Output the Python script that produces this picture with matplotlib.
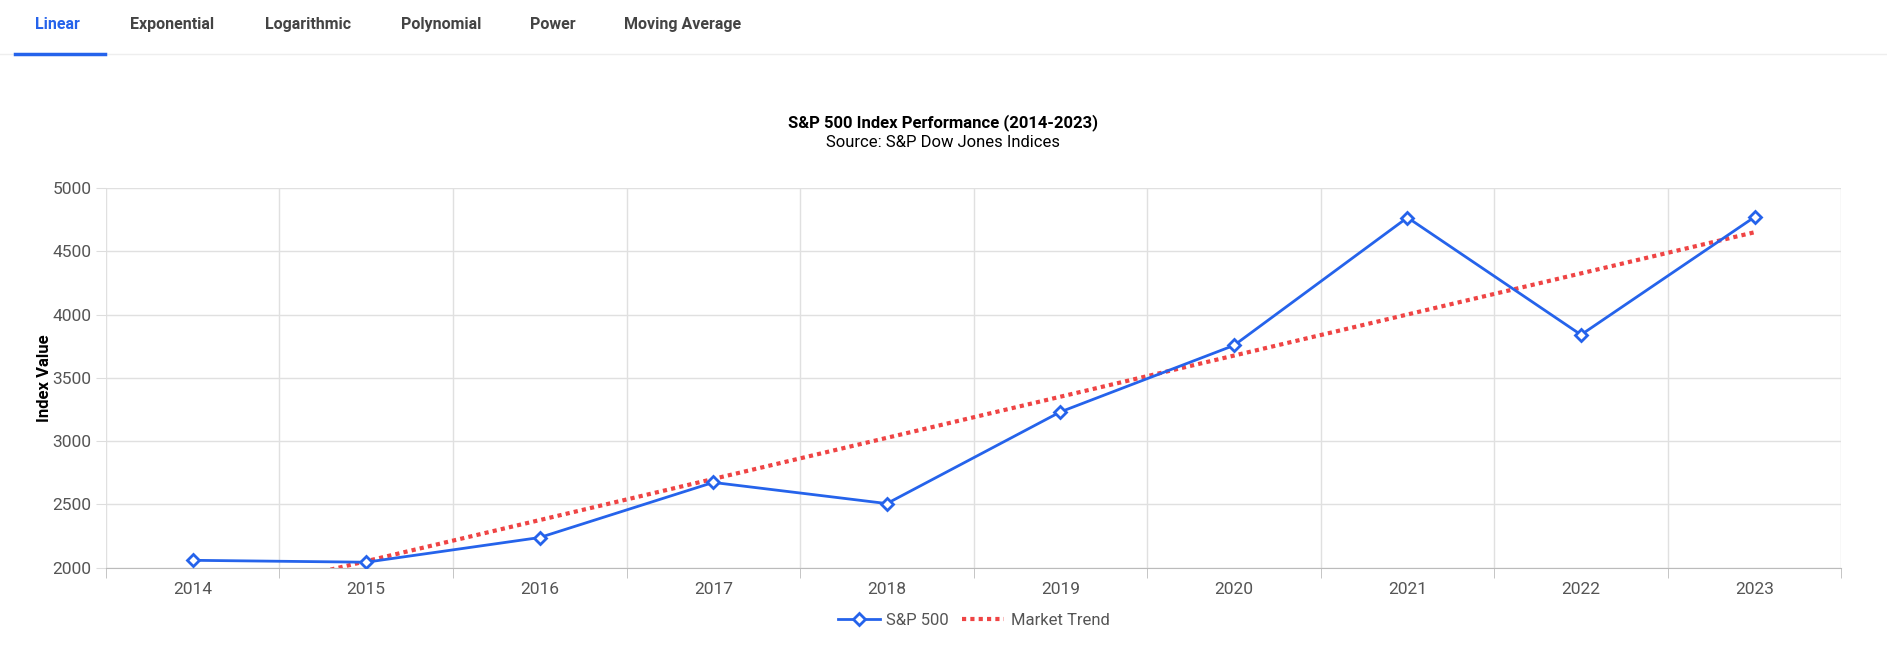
import matplotlib
matplotlib.use("Agg")
import matplotlib.pyplot as plt
import numpy as np

plt.rcParams['font.family'] = ['Roboto', 'DejaVu Sans']

years = ['2014','2015','2016','2017','2018','2019','2020','2021','2022','2023']
values = [2059, 2044, 2239, 2674, 2507, 3231, 3756, 4766, 3840, 4770]
tabs = ['Linear', 'Exponential', 'Logarithmic', 'Polynomial', 'Power', 'Moving Average']

blue = '#2563eb'
red = '#ef4444'

fig = plt.figure(figsize=(18.87, 6.57), dpi=100)
ax = fig.add_axes([0.0561, 0.1358, 0.9197, 0.5782])

x = np.arange(len(years))
coef = np.polyfit(x, values, 1)
trend = np.polyval(coef, x)

ax.plot(x, values, color=blue, lw=2, marker='D', ms=6, mfc='white', mec=blue, mew=2, label='S&P 500', zorder=3)
ax.plot(x, trend, color=red, lw=3, ls=(0, (1, 1)), label='Market Trend', zorder=2)

ax.set_xlim(-0.5, len(years) - 0.5)
ax.set_ylim(2000, 5000)
ax.set_yticks(np.arange(2000, 5001, 500))
ax.set_xticks(x)
ax.set_xticklabels(years)
ax.set_xticks(np.arange(-0.5, len(years), 1), minor=True)
ax.tick_params(axis='x', which='major', length=0, labelsize=12.5, colors='#555', pad=10)
ax.tick_params(axis='x', which='minor', length=7, color='#bbb')
ax.tick_params(axis='y', length=7, color='#ddd', labelsize=12.5, labelcolor='#555')
ax.grid(False)
for v in np.arange(-0.5, len(years), 1):
    ax.axvline(v, color='#e0e0e0', lw=1, zorder=0)
for v in np.arange(2000, 5001, 500):
    ax.axhline(v, color='#e0e0e0', lw=1, zorder=0)
for s in ['top', 'right', 'left']:
    ax.spines[s].set_visible(False)
ax.spines['bottom'].set_color('#bbb')
ax.set_ylabel('Index Value', fontsize=12, fontweight='bold', labelpad=0)

leg = ax.legend(loc='upper center', bbox_to_anchor=(0.5, -0.08), ncol=2, frameon=False, fontsize=12,
                handlelength=2.5, columnspacing=0.8, handletextpad=0.4)
for t in leg.get_texts():
    t.set_color('#555')

fig.text(0.5, 0.814, 'S&P 500 Index Performance (2014-2023)', ha='center', va='center', fontsize=12, fontweight='bold')
fig.text(0.5, 0.783, 'Source: S&P Dow Jones Indices', ha='center', va='center', fontsize=12)

# tabs
tab_x = [0.0306, 0.0912, 0.1633, 0.234, 0.2927, 0.3616]
for i, (t, tx) in enumerate(zip(tabs, tab_x)):
    fig.text(tx, 0.963, t, ha='center', va='center', fontsize=11.5, fontweight='bold',
             color=blue if i == 0 else '#444')
fig.add_artist(plt.Line2D([0, 1], [0.918, 0.918], color='#eeeeee', lw=1, transform=fig.transFigure))
fig.add_artist(plt.Line2D([0.0077, 0.0555], [0.918, 0.918], color=blue, lw=2.5, transform=fig.transFigure))

fig.savefig('out.png', dpi=100)
